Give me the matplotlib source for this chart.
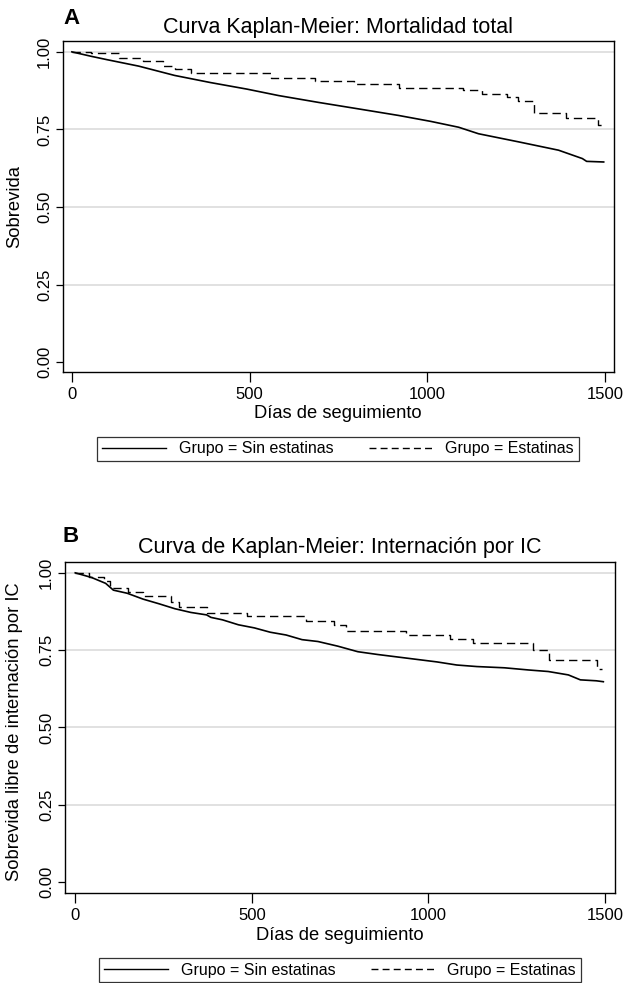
import matplotlib
matplotlib.use('Agg')
import matplotlib.pyplot as plt

plt.rcParams['font.family'] = ['Liberation Sans', 'DejaVu Sans']

# ---------------- data ----------------
# Panel A: total mortality
a_sin_days = [0, 53, 98, 188, 289, 390, 492, 582, 694, 807, 919, 1009, 1088,
              1144, 1256, 1369, 1436, 1448, 1496]
a_sin_surv = [1.0, 0.986, 0.975, 0.954, 0.924, 0.901, 0.880, 0.859, 0.837,
              0.816, 0.795, 0.776, 0.757, 0.736, 0.710, 0.683, 0.656, 0.647, 0.645]
a_est_days = [0, 53, 132, 199, 255, 289, 334, 559, 683, 795, 919, 1099, 1155,
              1223, 1256, 1301, 1391, 1481, 1495]
a_est_surv = [1.0, 0.995, 0.981, 0.970, 0.955, 0.946, 0.933, 0.917, 0.905,
              0.896, 0.884, 0.877, 0.865, 0.853, 0.840, 0.802, 0.786, 0.765, 0.765]

# Panel B: hospitalisation for heart failure
b_sin_days = [0, 46, 86, 108, 147, 192, 237, 282, 327, 372, 384, 417, 462, 507,
              552, 597, 642, 687, 743, 800, 856, 912, 968, 1024, 1080, 1137,
              1215, 1283, 1339, 1396, 1430, 1475, 1495]
b_sin_surv = [1.0, 0.985, 0.966, 0.944, 0.934, 0.915, 0.900, 0.884, 0.872,
              0.864, 0.856, 0.848, 0.832, 0.822, 0.808, 0.799, 0.784, 0.778,
              0.763, 0.745, 0.736, 0.728, 0.720, 0.712, 0.702, 0.697, 0.693,
              0.686, 0.681, 0.670, 0.654, 0.651, 0.648]
b_est_days = [0, 40, 80, 97, 149, 192, 271, 293, 372, 485, 654, 733, 767, 936,
              1060, 1127, 1296, 1341, 1476, 1490]
b_est_surv = [1.0, 0.985, 0.974, 0.952, 0.939, 0.925, 0.907, 0.889, 0.870,
              0.859, 0.843, 0.832, 0.811, 0.798, 0.786, 0.774, 0.749, 0.718,
              0.688, 0.688]

x_ticks = [0, 500, 1000, 1500]
y_ticks = [0.00, 0.25, 0.50, 0.75, 1.00]
y_tick_labels = ['0.00', '0.25', '0.50', '0.75', '1.00']
legend_labels = ['Grupo = Sin estatinas', 'Grupo = Estatinas']

W, H = 623, 983
fig = plt.figure(figsize=(W / 100, H / 100), dpi=100)


def px_axes(l, r, t, b):
    return fig.add_axes([l / W, 1 - b / H, (r - l) / W, (b - t) / H])


def ftext(x, y, s, **kw):
    fig.text(x / W, 1 - y / H, s, **kw)


def style_axes(ax, xlim, ylim):
    ax.set_xlim(*xlim)
    ax.set_ylim(*ylim)
    for g in [0.25, 0.50, 0.75, 1.00]:
        ax.axhline(g, color='#dcdcdc', lw=1.2, zorder=0)
    ax.set_xticks(x_ticks)
    ax.set_yticks(y_ticks)
    ax.set_yticklabels(y_tick_labels, rotation=90, va='center')
    ax.tick_params(axis='y', length=5, width=0.9, pad=3, labelsize=12)
    ax.tick_params(axis='x', length=7, width=0.9, pad=4, labelsize=12)
    for sp in ax.spines.values():
        sp.set_linewidth(1.0)
        sp.set_color('black')


def draw_panel(ax, sin_d, sin_s, est_d, est_s):
    ax.plot(sin_d, sin_s, color='black', lw=1.2)
    ax.plot(est_d, est_s, color='black', lw=1.0, drawstyle='steps-post',
            dashes=(6, 3.5))


def add_legend(cx, cy):
    h1 = plt.Line2D([], [], color='black', lw=1.0)
    h2 = plt.Line2D([], [], color='black', lw=1.0, dashes=(5, 3))
    leg = fig.legend([h1, h2], legend_labels, ncol=2, loc='center',
                     bbox_to_anchor=(cx / W, 1 - cy / H), fontsize=11.5,
                     frameon=True, fancybox=False, edgecolor='black',
                     handlelength=4.0, handletextpad=0.8, columnspacing=2.2,
                     borderpad=0.3, borderaxespad=0)
    leg.get_frame().set_linewidth(0.9)


# ---------------- Panel A ----------------
axA = px_axes(63, 614, 41, 372)
draw_panel(axA, a_sin_days, a_sin_surv, a_est_days, a_est_surv)
style_axes(axA, (-25, 1525), (-0.032, 1.035))
ftext(63, 18, 'A', fontsize=16, fontweight='bold', va='center', ha='left')
ftext(338, 27, 'Curva Kaplan-Meier: Mortalidad total', fontsize=15.5,
      ha='center', va='center')
ftext(338, 413, 'Días de seguimiento', fontsize=13.2, ha='center', va='center')
ftext(15, 207, 'Sobrevida', fontsize=13.2, ha='center', va='center',
      rotation=90)
add_legend(338, 449)

# ---------------- Panel B ----------------
axB = px_axes(65, 615, 562, 893)
draw_panel(axB, b_sin_days, b_sin_surv, b_est_days, b_est_surv)
style_axes(axB, (-29, 1528), (-0.035, 1.035))
ftext(63, 536, 'B', fontsize=16, fontweight='bold', va='center', ha='left')
ftext(340, 547, 'Curva de Kaplan-Meier: Internación por IC', fontsize=15.5,
      ha='center', va='center')
ftext(340, 935, 'Días de seguimiento', fontsize=13.2, ha='center', va='center')
ftext(15, 732, 'Sobrevida libre de internación por IC', fontsize=13.2,
      ha='center', va='center', rotation=90)
add_legend(340, 970)

fig.savefig('out.png', dpi=100)
